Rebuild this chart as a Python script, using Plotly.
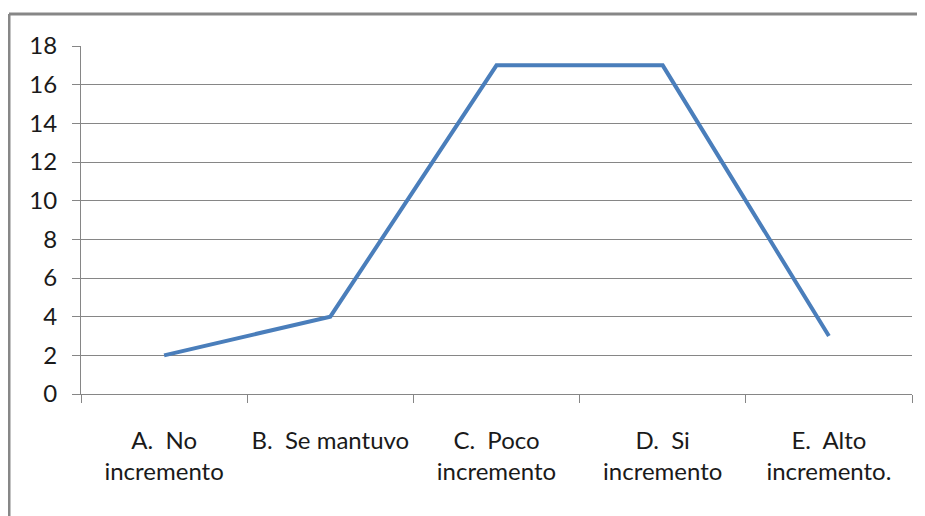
import plotly.graph_objects as go

categories = ["A.\u00a0\u00a0No<br>incremento", "B.\u00a0\u00a0Se mantuvo",
              "C.\u00a0\u00a0Poco<br>incremento", "D.\u00a0\u00a0Si<br>incremento",
              "E.\u00a0\u00a0Alto<br>incremento."]
values = [2, 4, 17, 17, 3]
y_ticks = [0, 2, 4, 6, 8, 10, 12, 14, 16, 18]

FONT = "Lato, Liberation Sans, sans-serif"
GRID = "#868686"
TXT = "#1a1a1a"

fig = go.Figure()
fig.add_trace(go.Scatter(x=categories, y=values, mode="lines",
                         line=dict(color="#4A7EBB", width=4), hoverinfo="skip"))

fig.update_layout(
    width=925, height=516,
    margin=dict(l=73, r=21, t=38, b=130),
    paper_bgcolor="white", plot_bgcolor="white",
    showlegend=False,
    font=dict(family=FONT, size=24, color=TXT),
    xaxis=dict(type="category", tickson="boundaries", ticks="outside", ticklen=8,
               tickcolor=GRID, showline=True, linecolor=GRID, linewidth=1,
               showgrid=False, range=[-0.5, 4.5], ticklabelstandoff=25,
               tickangle=0, automargin=False,
               tickfont=dict(family=FONT, size=24, color=TXT)),
    yaxis=dict(range=[0, 18], tickvals=y_ticks, ticks="outside", ticklen=8,
               tickcolor=GRID, showline=True, linecolor=GRID, linewidth=1,
               showgrid=True, gridcolor=GRID, gridwidth=1, zeroline=False,
               ticklabelstandoff=10, automargin=False,
               tickfont=dict(family=FONT, size=24, color=TXT)),
    shapes=[
        dict(type="line", xref="paper", yref="paper", x0=-72/831, x1=1.2,
             y0=380/348, y1=380/348, line=dict(color="#878787", width=3)),
        dict(type="line", xref="paper", yref="paper", x0=-72/831, x1=-72/831,
             y0=-0.5, y1=380/348, line=dict(color="#878787", width=3)),
    ],
)

fig.write_html("out.html")
